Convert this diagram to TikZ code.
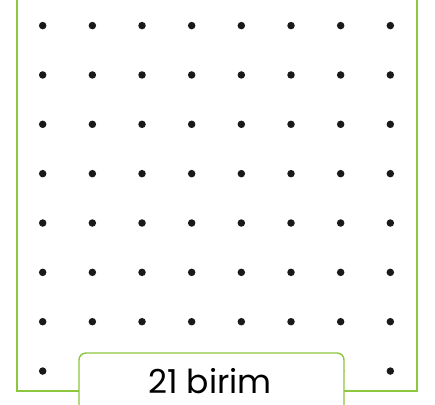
\documentclass[tikz,border=0pt]{standalone}
\usepackage{fontspec}
\setmainfont{Poppins}
\usepackage{xcolor}
\usepackage{tikz}
\usetikzlibrary{positioning}
\definecolor{framegreen}{RGB}{141,198,63}

\begin{document}
\begin{tikzpicture}[
  x=1pt, y=-1pt,
  dot/.style={circle, fill=black!90, inner sep=0pt, minimum size=7.5pt},
  frame/.style={draw=framegreen, line width=2.2pt},
  lblbox/.style={draw=framegreen, line width=1.4pt, fill=white, rounded corners=7pt},
  lbltext/.style={inner sep=0pt, anchor=base, font=\fontsize{33}{36}\selectfont}
]
\useasboundingbox (0,0) rectangle (435,404);

\draw[frame] (17,-2) rectangle (417,391);

\foreach \i in {0,...,7}
  \foreach \j in {0,...,7}
    \node[dot] (d-\i-\j) at ({42.7+49.66*\i},{25.6+49.35*\j}) {};

% label tab at the bottom
\draw[lblbox] (79,420) rectangle (344,353);
\node[lbltext] (lbl) at (210,393) {21 birim};
\end{tikzpicture}
\end{document}
